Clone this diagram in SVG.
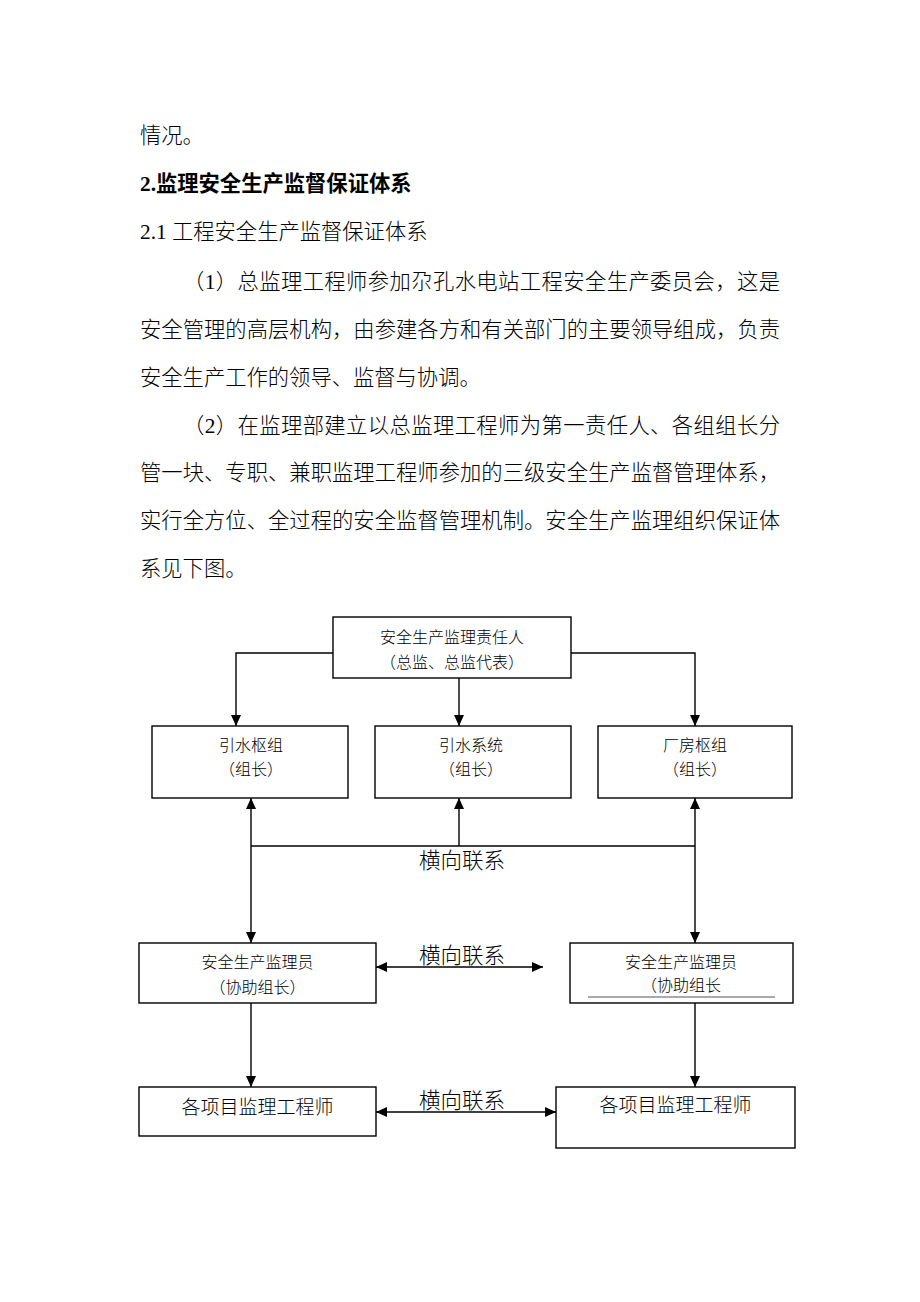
<svg xmlns="http://www.w3.org/2000/svg" width="920" height="1302" viewBox="0 0 920 1302">
<style>
.p{font-family:"Liberation Serif","Noto Sans CJK SC",serif;font-size:21.3px;fill:#000;font-weight:300}
.h{font-family:"Liberation Serif","Noto Sans CJK SC",serif;font-size:21.3px;fill:#000;font-weight:bold}
.box{fill:#fff;stroke:#000;stroke-width:1.4}
.t{font-family:"Liberation Serif","Noto Sans CJK SC",serif;font-size:16px;fill:#000;text-anchor:middle;font-weight:300}
.t2{font-family:"Liberation Serif","Noto Sans CJK SC",serif;font-size:19px;fill:#000;text-anchor:middle;font-weight:300}
.lab{font-family:"Liberation Serif","Noto Sans CJK SC",serif;font-size:21.5px;fill:#000;text-anchor:middle;font-weight:300}
.c{fill:none;stroke:#000;stroke-width:1.4}
</style>
<defs>
<marker id="ah" markerUnits="userSpaceOnUse" markerWidth="11" markerHeight="10" refX="11" refY="5" orient="auto-start-reverse">
<path d="M0,0 L11,5 L0,10 z" fill="#000"/>
</marker>
</defs>
<rect width="920" height="1302" fill="#fff"/>
<g id="text">
<text class="p" x="140" y="143">情况。</text>
<text class="h" x="140" y="191">2.监理安全生产监督保证体系</text>
<text class="p" x="140" y="239">2.1 工程安全生产监督保证体系</text>
<text class="p" x="183" y="289" textLength="597" lengthAdjust="spacing">（1）总监理工程师参加尕孔水电站工程安全生产委员会，这是</text>
<text class="p" x="140" y="337" textLength="640" lengthAdjust="spacing">安全管理的高层机构，由参建各方和有关部门的主要领导组成，负责</text>
<text class="p" x="140" y="385">安全生产工作的领导、监督与协调。</text>
<text class="p" x="183" y="433" textLength="597" lengthAdjust="spacing">（2）在监理部建立以总监理工程师为第一责任人、各组组长分</text>
<text class="p" x="140" y="480" textLength="640" lengthAdjust="spacing">管一块、专职、兼职监理工程师参加的三级安全生产监督管理体系，</text>
<text class="p" x="140" y="528" textLength="640" lengthAdjust="spacing">实行全方位、全过程的安全监督管理机制。安全生产监理组织保证体</text>
<text class="p" x="140" y="576">系见下图。</text>
</g>
<g id="connectors">
<path class="c" d="M333,653 H236 V726" marker-end="url(#ah)"/>
<path class="c" d="M571,653 H695 V726" marker-end="url(#ah)"/>
<path class="c" d="M459,678 V726" marker-end="url(#ah)"/>
<path class="c" d="M251,846 H695"/>
<path class="c" d="M251,846 V798" marker-end="url(#ah)"/>
<path class="c" d="M459,846 V798" marker-end="url(#ah)"/>
<path class="c" d="M695,846 V798" marker-end="url(#ah)"/>
<path class="c" d="M251,846 V943" marker-end="url(#ah)"/>
<path class="c" d="M695,846 V943" marker-end="url(#ah)"/>
<path class="c" d="M376,967 H543" marker-start="url(#ah)" marker-end="url(#ah)"/>
<path class="c" d="M251,1003 V1087" marker-end="url(#ah)"/>
<path class="c" d="M695,1003 V1087" marker-end="url(#ah)"/>
<path class="c" d="M376,1112 H556" marker-start="url(#ah)" marker-end="url(#ah)"/>
<text class="lab" x="462" y="868">横向联系</text>
<text class="lab" x="462" y="963">横向联系</text>
<text class="lab" x="462" y="1108">横向联系</text>
</g>
<g id="n-top">
<rect class="box" x="333" y="617" width="238" height="61"/>
<text class="t" x="452" y="643">安全生产监理责任人</text>
<text class="t" x="452" y="668">（总监、总监代表）</text>
</g>
<g id="n-yinshuishuzu">
<rect class="box" x="152" y="726" width="196" height="72"/>
<text class="t" x="251" y="751">引水枢组</text>
<text class="t" x="251" y="775">（组长）</text>
</g>
<g id="n-yinshuixitong">
<rect class="box" x="375" y="726" width="196" height="72"/>
<text class="t" x="471" y="751">引水系统</text>
<text class="t" x="471" y="775">（组长）</text>
</g>
<g id="n-changfang">
<rect class="box" x="598" y="726" width="194" height="72"/>
<text class="t" x="695" y="751">厂房枢组</text>
<text class="t" x="695" y="775">（组长）</text>
</g>
<g id="n-jly-left">
<rect class="box" x="139" y="943" width="237" height="60"/>
<text class="t" x="257.5" y="968">安全生产监理员</text>
<text class="t" x="257.5" y="993">（协助组长）</text>
</g>
<g id="n-jly-right">
<rect class="box" x="570" y="943" width="223" height="60"/>
<text class="t" x="681" y="968">安全生产监理员</text>
<text class="t" x="681" y="991">（协助组长</text>
<line x1="588" y1="997" x2="775" y2="997" stroke="#555" stroke-width="1"/>
</g>
<g id="n-gc-left">
<rect class="box" x="139" y="1087" width="237" height="49"/>
<text class="t2" x="257.5" y="1114">各项目监理工程师</text>
</g>
<g id="n-gc-right">
<rect class="box" x="556" y="1087" width="239" height="61"/>
<text class="t2" x="675.5" y="1112">各项目监理工程师</text>
</g>
</svg>
